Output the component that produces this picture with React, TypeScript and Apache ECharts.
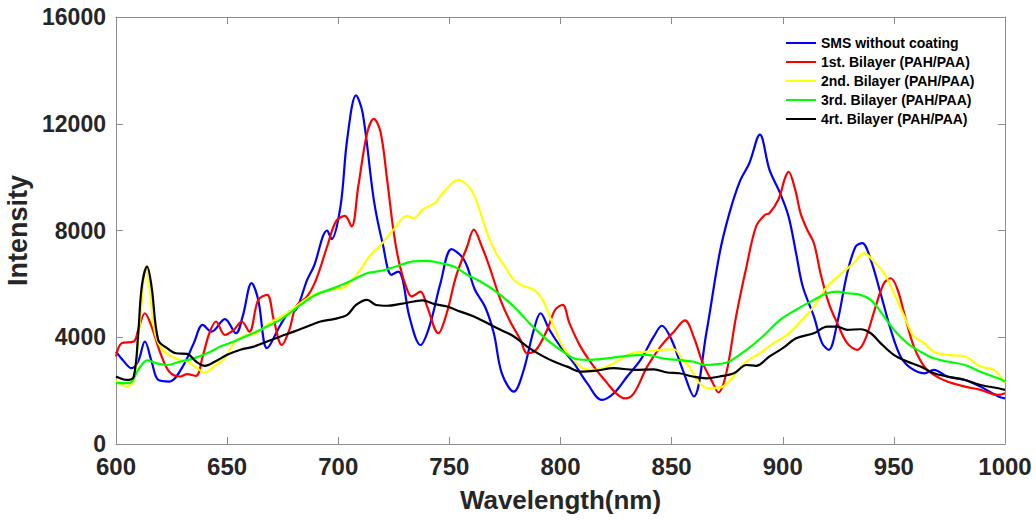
import React, { useEffect, useRef } from "react";
import * as echarts from "echarts";

const xTicks = [600, 1000, 50];
const yTicks = [0, 16000, 4000];

const seriesNames = [
  "SMS without coating",
  "1st. Bilayer (PAH/PAA)",
  "2nd. Bilayer (PAH/PAA)",
  "3rd. Bilayer (PAH/PAA)",
  "4rt. Bilayer (PAH/PAA)",
];

const smsWithoutCoating = [
  [600, 3460], [603, 3150], [607, 2840], [610, 3100], [613, 3840], [616, 3100], [619, 2400], [624, 2340],
  [630, 2900], [635, 3780], [639, 4460], [643, 4210], [649, 4680], [654, 4150], [657, 4780], [661, 6030],
  [664, 5400], [668, 3590], [674, 4460], [678, 4960], [681, 5030], [686, 6150], [689, 6650], [695, 8000],
  [697, 7680], [701, 8900], [704, 11400], [708, 13060], [711, 12400], [716, 9150], [720, 7500], [724, 6340],
  [727, 6460], [729, 6150], [732, 4780], [737, 3710], [741, 4400], [746, 6030], [751, 7300], [755.5, 7030],
  [758, 6650], [761.5, 5780], [766, 5150], [770, 4150], [773.6, 2650], [779, 1960], [783, 2650], [788, 4280],
  [791, 4900], [795, 4280], [800, 3650], [806, 3030], [812, 2280], [818.6, 1650], [824, 1900], [830, 2530],
  [836, 3150], [842, 4030], [845.6, 4430], [850, 3900], [855, 2780], [860, 1780], [865.6, 4150], [871.6, 7150],
  [876, 8650], [880.7, 9840], [885, 10530], [889.7, 11590], [894, 10280], [898.8, 9400], [902.6, 8530],
  [906, 7150], [909, 5900], [914, 4780], [917.7, 3780], [920.7, 3530], [924.5, 4530], [929, 6400],
  [932.8, 7400], [935.8, 7530], [939.6, 6900], [944, 5650], [948.6, 4280], [953, 3280], [957.7, 2840],
  [963.7, 2650], [968, 2780], [974, 2530], [982, 2400], [989, 2150], [997, 1780], [1000, 1710],
];

const bilayer1 = [
  [600, 3280], [602.6, 3780], [608, 3840], [610, 4280], [613, 4900], [616, 4400], [620, 3400], [624, 2710],
  [629, 2530], [632, 2620], [636, 2550], [639, 3280], [642, 4150], [645, 4590], [649, 4090], [653, 4280],
  [656.6, 4590], [660, 4210], [664, 5400], [668, 5590], [671, 4650], [674.6, 3710], [678, 4280], [681, 5150],
  [686, 5530], [690, 6150], [695, 7400], [699, 8340], [703, 8550], [706, 8150], [709, 9650], [713, 11650],
  [716, 12180], [719, 11700], [722, 9900], [725, 7900], [727.8, 6650], [731, 5780], [733, 5530], [737, 5710],
  [740, 5150], [745, 4150], [748.8, 4900], [753, 6280], [758, 7400], [761, 8030], [764.6, 7400], [768, 6650],
  [773, 5400], [777, 4650], [782, 3900], [785, 3400], [789, 3530], [794, 4280], [797.6, 5030], [801, 5210],
  [804, 4530], [809, 3650], [815, 2900], [821, 2280], [825, 1900], [829, 1710], [833, 1900], [839, 2900],
  [845, 3650], [851, 4210], [856, 4630], [860, 4000], [864, 3030], [868.6, 2280], [871, 1930], [874.6, 2650],
  [879, 4780], [883.7, 6650], [888, 8150], [892, 8590], [894, 8650], [898, 9150], [901, 9960], [902.6, 10200],
  [905.6, 9530], [908, 8650], [911, 8030], [914, 7530], [917, 6400], [920.7, 5280], [924.5, 4530], [929, 3780],
  [933.5, 3530], [937, 3900], [941.8, 5150], [945.6, 6030], [948.6, 6210], [951.7, 5780], [955, 4780],
  [959, 3650], [963.7, 2900], [968, 2590], [974, 2340], [982, 2150], [989, 2030], [997, 1840], [1000, 1900],
];

const bilayer2 = [
  [600, 2400], [605, 2150], [608, 2400], [611, 4780], [613.5, 6650], [615, 5900], [617.6, 4150], [621, 3530],
  [626.6, 3210], [632, 3090], [635.6, 2900], [640, 2680], [644, 2900], [649, 3210], [653, 3780], [657, 4030],
  [663, 4150], [669, 4530], [677, 4900], [683, 5280], [689, 5590], [696, 5780], [702, 5840], [705, 6030],
  [710, 6530], [714, 7030], [719, 7450], [724.8, 8030], [731, 8550], [734, 8460], [738, 8780], [743.5, 9030],
  [747, 9400], [754, 9900], [758.6, 9650], [762, 9150], [767, 7900], [771, 7150], [775, 6650], [779, 6150],
  [783, 5930], [788, 5780], [792, 5400], [797, 4400], [801, 3650], [806, 3150], [810, 2840], [816, 2780],
  [824, 3030], [833, 3430], [839, 3460], [845, 3530], [851, 3550], [855, 3150], [858, 2900], [862.5, 2280],
  [867, 2090], [873, 2150], [879, 2650], [883.7, 3090], [889.7, 3400], [895.8, 3780], [902, 4090], [908, 4590],
  [914, 5150], [920, 5900], [925.7, 6340], [932, 6780], [936.6, 7150], [941, 6840], [945.6, 6400], [950, 5650],
  [954.7, 4780], [959, 4030], [963.7, 3780], [968, 3460], [974, 3340], [982, 3280], [989, 2900], [995, 2780],
  [1000, 2280],
];

const bilayer3 = [
  [600, 2280], [606, 2280], [610, 2780], [614, 3130], [618, 3030], [623, 2960], [629, 3090], [635, 3210],
  [641, 3400], [647, 3650], [653, 3840], [660, 4090], [668, 4400], [675, 4710], [683, 5210], [690, 5590],
  [698, 5840], [705, 6090], [713, 6400], [720, 6500], [726, 6650], [733.8, 6840], [740, 6860], [746, 6780],
  [752, 6650], [758, 6340], [764, 6090], [771, 5710], [779, 5150], [786, 4530], [794, 3900], [800, 3530],
  [806, 3210], [812, 3150], [821, 3210], [830, 3300], [839, 3340], [846, 3210], [854, 3140], [859.5, 3090],
  [865.6, 2960], [871.6, 3000], [876, 3090], [883.7, 3530], [891, 4030], [898.8, 4650], [906, 5030],
  [914, 5400], [920, 5650], [924.5, 5710], [929, 5650], [935, 5590], [939.6, 5400], [944, 4960], [950, 4280],
  [956, 3780], [962, 3460], [968, 3210], [974, 3090], [982, 2960], [989, 2710], [997, 2460], [1000, 2340],
];

const bilayer4 = [
  [600, 2530], [605, 2400], [608, 2530], [610, 4150], [611.6, 5900], [614, 6650], [616, 5900], [619, 3900],
  [623, 3590], [627, 3400], [632, 3380], [636, 3090], [640, 2930], [644.6, 3090], [650, 3340], [656, 3530],
  [662, 3650], [668, 3840], [674, 4030], [680, 4210], [686, 4400], [692, 4590], [698, 4680], [704, 4840],
  [708, 5210], [713, 5400], [717, 5210], [722, 5180], [728, 5250], [734, 5340], [738, 5380], [743, 5250],
  [749, 5150], [755, 4960], [761, 4780], [767, 4530], [773, 4280], [779, 4030], [785, 3650], [791, 3340],
  [797, 3090], [803, 2900], [809, 2710], [816, 2750], [824, 2840], [833, 2780], [842, 2800], [848, 2680],
  [853.5, 2650], [859.5, 2530], [865.6, 2460], [871.6, 2530], [878, 2650], [883.7, 2960], [888, 2930],
  [894, 3280], [900, 3590], [906, 3960], [914, 4150], [920, 4400], [924.5, 4400], [929, 4280], [935, 4300],
  [939.6, 4150], [944, 3780], [950, 3340], [956, 3090], [962, 2900], [968, 2650], [974, 2530], [982, 2400],
  [989, 2210], [997, 2090], [1000, 2030],
];

const seriesData = [smsWithoutCoating, bilayer1, bilayer2, bilayer3, bilayer4];
const seriesColors = ["#0000ff", "#ff0000", "#ffff00", "#00ff00", "#000000"];

const FONT = "'Liberation Sans', Arial, Helvetica, sans-serif";
const AXIS_COLOR = "#8c8c8c";
const LABEL_COLOR = "#262626";

export default function App() {
  const ref = useRef<HTMLDivElement>(null);

  useEffect(() => {
    document.body.style.margin = "0";
    if (!ref.current) return;
    const chart = echarts.init(ref.current, null, { renderer: "svg" });

    const baseX = {
      type: "value",
      min: xTicks[0],
      max: xTicks[1],
      interval: xTicks[2],
      splitLine: { show: false },
      axisLine: { show: true, onZero: false, lineStyle: { color: AXIS_COLOR, width: 1 } },
      axisTick: { show: true, inside: true, length: 7, lineStyle: { color: AXIS_COLOR } },
    };
    const baseY = {
      type: "value",
      min: yTicks[0],
      max: yTicks[1],
      interval: yTicks[2],
      splitLine: { show: false },
      axisLine: { show: true, onZero: false, lineStyle: { color: AXIS_COLOR, width: 1 } },
      axisTick: { show: true, inside: true, length: 7, lineStyle: { color: AXIS_COLOR } },
    };

    chart.setOption({
      animation: false,
      backgroundColor: "#ffffff",
      grid: {
        left: 116,
        right: 31,
        top: 17,
        bottom: 76,
        containLabel: false,
        outerBoundsMode: "none",
      },
      legend: {
        orient: "vertical",
        left: 781,
        top: 31,
        itemWidth: 30,
        itemHeight: 2,
        itemGap: 5,
        icon: "rect",
        data: seriesNames,
        textStyle: { fontFamily: FONT, fontSize: 14, fontWeight: "bold", color: "#000", lineHeight: 14 },
      },
      xAxis: [
        {
          ...baseX,
          position: "bottom",
          name: "Wavelength(nm)",
          nameLocation: "middle",
          nameGap: 43,
          nameTextStyle: { fontFamily: FONT, fontSize: 26, fontWeight: "bold", color: LABEL_COLOR },
          axisLabel: {
            show: true,
            margin: 10,
            fontFamily: FONT,
            fontSize: 24,
            fontWeight: "bold",
            color: LABEL_COLOR,
            formatter: (v: number) => String(v),
          },
        },
        { ...baseX, position: "top", axisLabel: { show: false } },
      ],
      yAxis: [
        {
          ...baseY,
          position: "left",
          name: "Intensity",
          nameLocation: "middle",
          nameGap: 70,
          nameTextStyle: { fontFamily: FONT, fontSize: 27, fontWeight: "bold", color: LABEL_COLOR },
          axisLabel: {
            show: true,
            margin: 10,
            fontFamily: FONT,
            fontSize: 23,
            fontWeight: "bold",
            color: LABEL_COLOR,
            formatter: (v: number) => String(v),
          },
        },
        { ...baseY, position: "right", axisLabel: { show: false } },
      ],
      series: seriesNames.map((name, i) => ({
        name,
        type: "line",
        xAxisIndex: 0,
        yAxisIndex: 0,
        data: seriesData[i],
        smooth: 0.35,
        symbol: "none",
        showSymbol: false,
        color: seriesColors[i],
        lineStyle: { color: seriesColors[i], width: 2.2 },
      })),
    });

    return () => chart.dispose();
  }, []);

  return <div ref={ref} style={{ width: 1036, height: 520 }} />;
}
